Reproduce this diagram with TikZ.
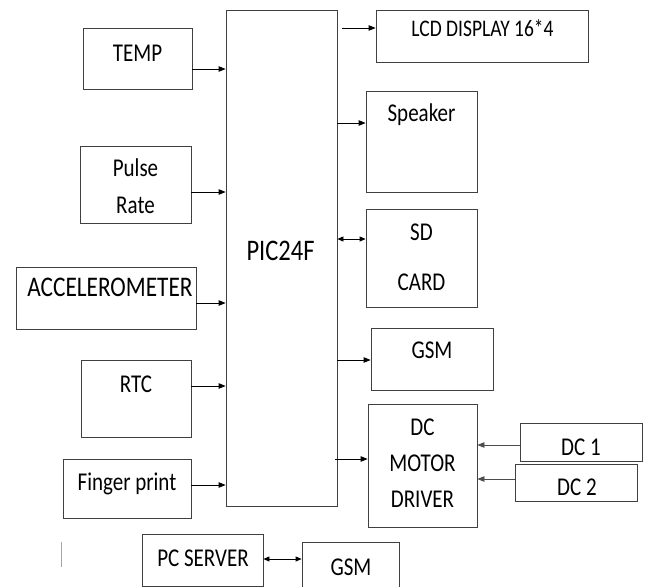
\documentclass[tikz,border=0pt]{standalone}
\usepackage{fontspec}
\usepackage{graphicx}
\setmainfont{Carlito}
\usetikzlibrary{arrows.meta}
\newcommand{\tallt}[1]{\scalebox{1}[1.22]{#1}}

\begin{document}
\begin{tikzpicture}[x=1pt,y=-1pt,
  blk/.style 2 args={draw=black!75,line width=0.8pt,inner sep=0pt,
                     minimum width=#1pt,minimum height=#2pt},
  txt/.style={font=\fontsize{21}{25}\selectfont,inner sep=0pt,
              text height=16.5pt,text depth=0pt},
  mtxt/.style={font=\fontsize{21}{36.5}\selectfont,inner sep=0pt,align=center},
  arr/.style={-{Triangle[length=7pt,width=5.5pt]},line width=0.8pt},
  darr/.style={{Triangle[length=6pt,width=5pt]}-{Triangle[length=6pt,width=5pt]},line width=0.8pt}
]
  \useasboundingbox (0,0) rectangle (646,587);

  % ── controller ───────────────────────────────────────────────────────────
  \node[blk={111}{496}] (pic) at (281.5,258) {};
  \node[txt,font=\fontsize{24.5}{29}\selectfont,text height=19pt] (pic-t) at (280.5,251) {\tallt{PIC24F}};

  % ── inputs (left column) ─────────────────────────────────────────────────
  \node[blk={109}{61}]  (temp)   at (137.5,58.5) {};
  \node[blk={111}{77}]  (pulse)  at (135.5,184.5) {};
  \node[blk={180}{62}]  (accel)  at (106,298) {};
  \node[blk={110}{77}]  (rtc)    at (136,398.5) {};
  \node[blk={128}{59}]  (finger) at (127,488.5) {};

  \node[txt] (temp-t)   at (137.5,53)  {\tallt{TEMP}};
  \node[mtxt] (pulse-t) at (135.5,186) {\tallt{Pulse}\\\tallt{Rate}};
  \node[txt,font=\fontsize{23.3}{28}\selectfont,text height=18pt] (accel-t) at (110,287) {\tallt{ACCELEROMETER}};
  \node[txt] (rtc-t)    at (136,384)   {\tallt{RTC}};
  \node[txt] (finger-t) at (127,482)   {\tallt{Finger print}};

  \draw[arr] (temp.east |- 0,69)    -- (pic.west |- 0,69);
  \draw[arr] (pulse.east |- 0,192)  -- (pic.west |- 0,192);
  \draw[arr] (accel.east |- 0,303)  -- (pic.west |- 0,303);
  \draw[arr] (rtc.east |- 0,386)    -- (pic.west |- 0,386);
  \draw[arr] (finger.east |- 0,485) -- (pic.west |- 0,485);

  % ── outputs (right column) ───────────────────────────────────────────────
  \node[blk={212}{52}]  (lcd) at (482,36) {};
  \node[blk={111}{101}] (spk) at (421.5,141.5) {};
  \node[blk={111}{98}]  (sd)  at (421.5,258) {};
  \node[blk={122}{62}]  (gsm) at (432,359) {};
  \node[blk={109}{123}] (drv) at (422.5,465.5) {};
  \node[blk={122}{38}]  (dc1) at (581,442) {};
  \node[blk={122}{37}]  (dc2) at (576,482.5) {};

  \node[txt,font=\fontsize{19.5}{24}\selectfont,text height=15.3pt] (lcd-t) at (482.5,29) {\tallt{LCD DISPLAY 16*4}};
  \node[txt] (spk-t) at (421.5,113) {\tallt{Speaker}};
  \node[mtxt] (sd-t) at (421.5,257) {\tallt{SD}\\[13.5pt]\tallt{CARD}};
  \node[txt] (gsm-t) at (432,350) {\tallt{GSM}};
  \node[mtxt,font=\fontsize{21}{36}\selectfont] (drv-t) at (422.5,463) {\tallt{DC}\\\tallt{MOTOR}\\\tallt{DRIVER}};
  \node[txt] (dc1-t) at (581,447) {\tallt{DC 1}};
  \node[txt] (dc2-t) at (577,487) {\tallt{DC 2}};

  \draw[arr]  ([xshift=5pt]pic.east |- 0,28) -- (lcd.west |- 0,28);
  \draw[arr]  (pic.east |- 0,123) -- (spk.west |- 0,123);
  \draw[darr] (pic.east |- 0,239) -- (sd.west |- 0,239);
  \draw[arr]  (pic.east |- 0,360) -- (gsm.west |- 0,360);
  \draw[arr]  ([xshift=-2pt]pic.east |- 0,459) -- (drv.west |- 0,459);
  \draw[arr,black!70] (dc1.west |- 0,445) -- (drv.east |- 0,445);
  \draw[arr,black!70] (dc2.west |- 0,479) -- (drv.east |- 0,479);

  % ── server link (bottom) ─────────────────────────────────────────────────
  \node[blk={121}{52}] (pc)   at (202.5,560) {};
  \node[blk={97}{50}]  (gsm2) at (350.5,567) {};
  \node[txt] (pc-t)   at (203,558)   {\tallt{PC SERVER}};
  \node[txt] (gsm2-t) at (351,567)   {\tallt{GSM}};

  \draw[darr] (pc.east |- 0,559) -- (gsm2.west |- 0,559);

  \draw[black!35,line width=0.8pt] (61,542) -- (61,567);
\end{tikzpicture}
\end{document}
